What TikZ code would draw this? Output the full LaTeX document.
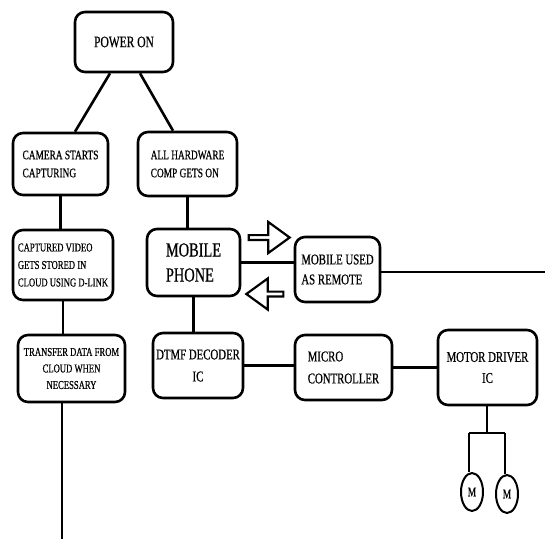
\documentclass[tikz,border=0pt]{standalone}
\usepackage{fontspec}
\setmainfont{Liberation Serif}[FakeStretch=0.72,FakeBold=0.6]
\usetikzlibrary{shapes.arrows,shapes.geometric}

\begin{document}
\begin{tikzpicture}[x=1pt,y=-1pt,
    blockbox/.style={draw,line width=2.6pt,rounded corners=10pt,align=left,inner sep=2pt},
    wire/.style={line width=2.6pt},
    hollowarrow/.style={draw,line width=2.2pt,single arrow,single arrow tip angle=72,
        single arrow head extend=6pt,single arrow head indent=0pt,inner sep=0pt,
        minimum width=31pt},
    motor/.style={draw,ellipse,line width=2pt,minimum width=22pt,minimum height=38pt,
        inner sep=0pt,font=\fontsize{13}{13}\selectfont}]
    \useasboundingbox (0,0) rectangle (545,539); % page size
    % left column
    \node[blockbox,minimum width=98pt,minimum height=60pt,font=\fontsize{16}{18}\selectfont]
        (power) at (124,42) {POWER ON};
    \node[blockbox,minimum width=95pt,minimum height=62pt,font=\fontsize{13}{18}\selectfont]
        (camera) at (60.5,164) {CAMERA STARTS\\CAPTURING};
    \node[blockbox,minimum width=100pt,minimum height=70pt,font=\fontsize{12}{17.5}\selectfont]
        (video) at (63,265) {CAPTURED VIDEO\\GETS STORED IN\\CLOUD USING D-LINK};
    \node[blockbox,align=center,minimum width=107pt,minimum height=67pt,font=\fontsize{12}{16.5}\selectfont]
        (transfer) at (71.5,368.5) {TRANSFER DATA FROM\\CLOUD WHEN\\NECESSARY};
    % middle column
    \node[blockbox,minimum width=99pt,minimum height=64pt,font=\fontsize{13}{18}\selectfont]
        (hardware) at (187.5,164) {ALL HARDWARE\\COMP GETS ON};
    \node[blockbox,minimum width=93pt,minimum height=67pt,font=\fontsize{20}{25}\selectfont]
        (mobile) at (193.5,262.5) {MOBILE\\PHONE};
    \node[blockbox,align=center,minimum width=90pt,minimum height=65pt,font=\fontsize{15}{22}\selectfont]
        (dtmf) at (198,365.5) {DTMF DECODER\\IC};
    % right part
    \node[blockbox,minimum width=85pt,minimum height=65pt,font=\fontsize{15}{20}\selectfont]
        (remote) at (337.5,269.5) {MOBILE USED\\AS REMOTE};
    \node[blockbox,minimum width=97pt,minimum height=65pt,font=\fontsize{15}{22}\selectfont]
        (micro) at (343.5,367.5) {MICRO\\CONTROLLER};
    \node[blockbox,align=center,minimum width=99pt,minimum height=75pt,font=\fontsize{15}{21}\selectfont]
        (driver) at (487.5,367.5) {MOTOR DRIVER\\IC};
    \node[motor] (motora) at (472,492) {M}; % motor 1
    \node[motor] (motorb) at (507,494) {M}; % motor 2
    % hollow arrows between phone and remote
    \node[hollowarrow,minimum height=41pt] (toremote) at (267.5,237.5) {};
    \node[hollowarrow,minimum height=37pt,shape border rotate=180] (fromremote) at (266.5,294) {};
    % free ends
    \coordinate (rightend) at (545,272);
    \coordinate (downend) at (62,539);
    \coordinate (split) at (487,433);
    % connectors
    \draw[wire] ([xshift=-14pt]power.south) -- ([xshift=14.5pt]camera.north);
    \draw[wire] ([xshift=16pt]power.south) -- ([xshift=-14.5pt]hardware.north);
    \draw[wire] (camera.south) -- (camera.south |- video.north);
    \draw[wire] (video.south) -- (video.south |- transfer.north);
    \draw[wire] (transfer.south -| downend) -- (downend);
    \draw[wire] (hardware.south) -- (hardware.south |- mobile.north);
    \draw[wire] (mobile.south) -- (mobile.south |- dtmf.north);
    \draw[wire] (mobile.east) -- (mobile.east -| remote.west);
    \draw[wire] (remote.east |- rightend) -- (rightend);
    \draw[wire] (dtmf.east) -- (dtmf.east -| micro.west);
    \draw[wire] (micro.east) -- (micro.east -| driver.west);
    \draw[wire] (driver.south -| split) -- (split); % driver to motors
    \draw[wire] ([xshift=-3pt]motora.north |- split) -- ([xshift=-2pt]motorb.north |- split);
    \draw[wire] ([xshift=-3pt]motora.north |- split) -- ([xshift=-3pt]motora.north);
    \draw[wire] ([xshift=-2pt]motorb.north |- split) -- ([xshift=-2pt]motorb.north);
\end{tikzpicture}
\end{document}
